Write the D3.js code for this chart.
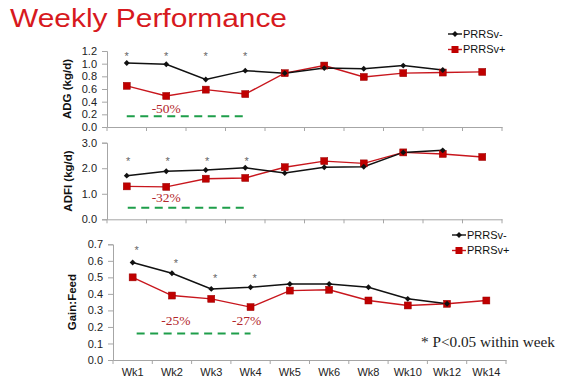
<!DOCTYPE html>
<html><head><meta charset="utf-8">
<script src="https://cdn.jsdelivr.net/npm/d3@7"></script>
<style>body{margin:0;background:#fff}svg{display:block;font-family:Arial,"Liberation Sans",sans-serif}</style>
</head><body><svg id="c" width="564" height="383"></svg>
<script>
const weeks=["Wk1","Wk2","Wk3","Wk4","Wk5","Wk6","Wk8","Wk10","Wk12","Wk14"];
const seriesNames=["PRRSv-","PRRSv+"];
const adgNeg=[1.01,0.99,0.75,0.89,0.85,0.93,0.92,0.97,0.90,null];
const adgPos=[0.65,0.49,0.59,0.52,0.85,0.97,0.79,0.85,0.86,0.87];
const adfiNeg=[1.71,1.88,1.93,2.02,1.81,2.04,2.06,2.62,2.70,null];
const adfiPos=[1.29,1.27,1.59,1.62,2.04,2.28,2.19,2.62,2.56,2.44];
const gfNeg=[0.59,0.525,0.43,0.44,0.46,0.46,0.44,0.37,0.34,null];
const gfPos=[0.50,0.39,0.37,0.32,0.42,0.425,0.36,0.33,0.34,0.36];
const adgTicks=[0,0.2,0.4,0.6,0.8,1.0,1.2];
const adfiTicks=[0,1,2,3];
const gfTicks=[0,0.1,0.2,0.3,0.4,0.5,0.6,0.7];
const starWeeks=["Wk1","Wk2","Wk3","Wk4"];
const adgStars=[1.15,1.15,1.15,1.15];
const adfiStars=[2.35,2.35,2.35,2.35];
const gfStars=[0.677,0.596,0.511,0.511];
const adgNotes=[{t:"-50%",w:"Wk2",v:0.30}];
const adfiNotes=[{t:"-32%",w:"Wk2",v:0.85}];
const gfNotes=[{t:"-25%",w:"Wk2",v:0.24,dx:4},{t:"-27%",w:"Wk4",v:0.24,dx:-4}];
const adgDash=0.17, adfiDash=0.45, gfDash=0.16;

const svg=d3.select("#c");
const RED="#c00000", BLACK="#111";

svg.append("text").attr("x",10).attr("y",27).attr("fill","#d71920")
  .attr("font-size",26).attr("textLength",277).attr("lengthAdjust","spacingAndGlyphs")
  .text("Weekly Performance");

const panels=[
 {top:51,bot:127,x0:107,x1:502,dom:[0,1.2],ticks:adgTicks,fmt:d3.format(".1f"),title:"ADG (kg/d)",tx:67,
  neg:adgNeg,pos:adgPos,stars:adgStars,sdx:0,notes:adgNotes,dash:adgDash,dx0:0,dx1:-2,legend:{x:448,y:34}},
 {top:142.7,bot:219.3,x0:107,x1:502,dom:[0,3],ticks:adfiTicks,fmt:d3.format(".1f"),title:"ADFI (kg/d)",tx:68,
  neg:adfiNeg,pos:adfiPos,stars:adfiStars,sdx:1.5,notes:adfiNotes,dash:adfiDash,dx0:1,dx1:-1,legend:null},
 {top:244.3,bot:360,x0:113,x1:506,dom:[0,0.7],ticks:gfTicks,fmt:d3.format(".1f"),title:"Gain:Feed",tx:72,
  neg:gfNeg,pos:gfPos,stars:gfStars,sdx:4,notes:gfNotes,dash:gfDash,dx0:4,dx1:0,legend:{x:452,y:235},xlabels:true}
];

panels.forEach(p=>{
  const x=d3.scaleBand().domain(weeks).range([p.x0,p.x1]);
  const cx=w=>x(w)+x.bandwidth()/2;
  const y=d3.scaleLinear().domain(p.dom).range([p.bot,p.top]);
  const g=svg.append("g");
  // y axis
  const ya=g.append("g").attr("transform",`translate(${p.x0},0)`)
    .call(d3.axisLeft(y).tickValues(p.ticks).tickFormat(p.fmt).tickSize(5).tickPadding(5));
  ya.select(".domain").attr("stroke","#a6a6a6");
  ya.selectAll(".tick line").attr("stroke","#a6a6a6");
  ya.selectAll(".tick text").attr("font-size",11).attr("fill","#222").attr("font-family","Arial,'Liberation Sans',sans-serif");
  // x axis
  const xa=g.append("g").attr("transform",`translate(0,${p.bot})`)
    .call(d3.axisBottom(x).tickSize(0).tickFormat(p.xlabels?(d=>d):(()=>"")).tickPadding(8));
  xa.select(".domain").attr("stroke","#a6a6a6");
  xa.selectAll(".tick text").attr("font-size",11).attr("fill","#222").attr("font-family","Arial,'Liberation Sans',sans-serif");
  const bounds=weeks.map(w=>x(w)).concat([p.x1]);
  g.selectAll(".xt").data(bounds).enter().append("line")
    .attr("x1",d=>d).attr("x2",d=>d).attr("y1",p.bot).attr("y2",p.bot+4).attr("stroke","#a6a6a6");
  // title
  g.append("text").attr("transform",`translate(${p.tx},${(p.top+p.bot)/2}) rotate(-90)`)
    .attr("text-anchor","middle").attr("dy","0.35em").attr("font-size",11.5).attr("font-weight","bold").attr("fill","#111")
    .text(p.title);
  // green dashed
  g.append("line").attr("x1",cx("Wk1")+p.dx0).attr("x2",cx("Wk4")+p.dx1)
    .attr("y1",y(p.dash)).attr("y2",y(p.dash)).attr("stroke","#1e9e4a").attr("stroke-width",2)
    .attr("stroke-dasharray","8,5.5");
  // notes
  p.notes.forEach(n=>{
    g.append("text").attr("x",cx(n.w)+(n.dx||0)).attr("y",y(n.v)).attr("dy","0.35em")
      .attr("text-anchor","middle").attr("font-family","'Liberation Serif','Times New Roman',serif")
      .attr("font-size",13.5).attr("fill","#b3262b").text(n.t);
  });
  // stars
  starWeeks.forEach((w,i)=>{
    g.append("text").attr("x",cx(w)+p.sdx).attr("y",y(p.stars[i])+6).attr("text-anchor","middle")
      .attr("font-size",11).attr("fill","#666").text("*");
  });
  const line=d3.line().defined(d=>d.v!=null).x(d=>cx(d.w)).y(d=>y(d.v));
  const negD=weeks.map((w,i)=>({w,v:p.neg[i]}));
  const posD=weeks.map((w,i)=>({w,v:p.pos[i]}));
  // red series
  g.append("path").datum(posD).attr("d",line).attr("fill","none").attr("stroke","#c8161d").attr("stroke-width",1.4);
  // black series
  g.append("path").datum(negD).attr("d",line).attr("fill","none").attr("stroke",BLACK).attr("stroke-width",1.5);
  g.selectAll(".sq").data(posD.filter(d=>d.v!=null)).enter().append("rect")
    .attr("x",d=>cx(d.w)-3.5).attr("y",d=>y(d.v)-3.5).attr("width",7).attr("height",7)
    .attr("fill",RED).attr("stroke","#9a0000").attr("stroke-width",0.5);
  g.selectAll(".dm").data(negD.filter(d=>d.v!=null)).enter().append("path")
    .attr("transform",d=>`translate(${cx(d.w)},${y(d.v)})`)
    .attr("d",d3.symbol(d3.symbolDiamond2,22)).attr("fill",BLACK);
  // legend
  if(p.legend){
    const L=p.legend;
    [0,1].forEach(k=>{
      const ly=L.y+k*15.5;
      g.append("line").attr("x1",L.x).attr("x2",L.x+14).attr("y1",ly).attr("y2",ly)
        .attr("stroke",k?"#c8161d":BLACK).attr("stroke-width",1.4);
      if(k){
        g.append("rect").attr("x",L.x+3.5).attr("y",ly-3.5).attr("width",7).attr("height",7).attr("fill",RED);
      } else {
        g.append("path").attr("transform",`translate(${L.x+7},${ly})`).attr("d",d3.symbol(d3.symbolDiamond2,22)).attr("fill",BLACK);
      }
      g.append("text").attr("x",L.x+15).attr("y",ly).attr("dy","0.35em").attr("font-size",11)
        .attr("fill","#111").text(seriesNames[k]);
    });
  }
});

svg.append("text").attr("x",421).attr("y",347).attr("font-family","'Liberation Serif','Times New Roman',serif")
  .attr("font-size",14.5).attr("fill","#222").attr("textLength",134).attr("lengthAdjust","spacingAndGlyphs")
  .text("* P<0.05 within week");
</script></body></html>
